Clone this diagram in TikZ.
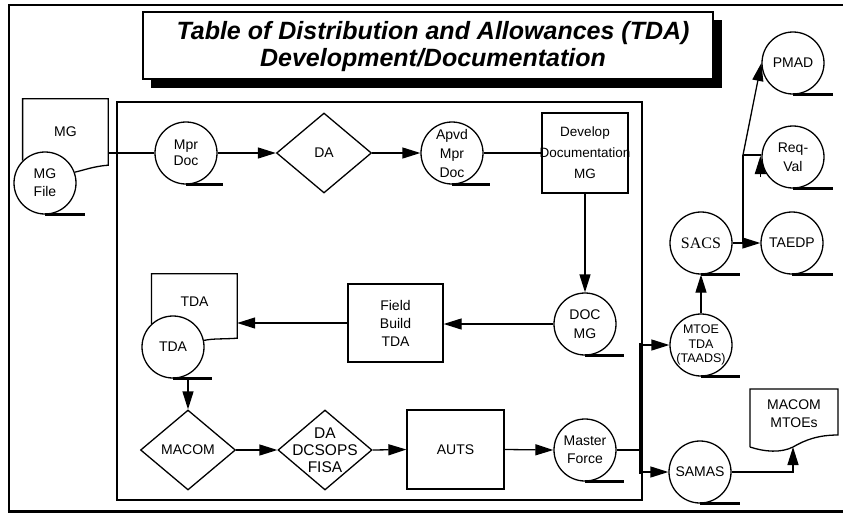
\documentclass[tikz,border=0pt]{standalone}
\usepackage{fontspec}
\setmainfont{Liberation Sans}
\newfontfamily\sacsfont{Liberation Serif}
\usetikzlibrary{arrows.meta,shapes.geometric,calc}
\begin{document}
\begin{tikzpicture}[x=1pt,y=-1pt,
  ln/.style={line width=1.3pt},
  arr/.style={line width=1.3pt,-{Triangle[length=18pt,width=11pt]}},
  under/.style={line width=2.6pt},
  txt/.style={font=\fontsize{14}{18}\selectfont,align=center,inner sep=0pt},
  tape/.style={circle,draw,line width=1.3pt,minimum size=62pt,inner sep=0pt},
  procbox/.style={rectangle,draw,line width=1.3pt,inner sep=0pt},
  decide/.style={diamond,draw,line width=1.3pt,inner sep=0pt,minimum width=95pt,minimum height=80pt},
]
\useasboundingbox (0,0) rectangle (843,517);

% outer frame
\draw[line width=1.2pt] (850,5) -- (9,5) -- (9,511);
\draw[line width=3pt] (7.5,511) -- (850,511);

% title
\fill (151,20) rectangle (722,88);
\node[procbox,fill=white,minimum width=570pt,minimum height=67pt] (title) at (428,45.5) {};
\node[font=\fontsize{25}{27}\bfseries\itshape\selectfont,align=center,inner sep=0pt] (titletext) at (433,46.5)
  {Table of Distribution and Allowances (TDA)\\Development/Documentation};

% inner frame
\draw[line width=1.4pt] (117,102) rectangle (642,500);

% MG document + file
\node[tape,label={[txt]center:MG\\File}] (mgfile) at (45,183) {};
\node[txt,minimum width=85pt,minimum height=66pt] (mgdoc) at (65.5,132) {MG};
\draw[ln] (mgfile.135) |- (mgdoc.north east) -- (mgdoc.south east) .. controls +(-14,1) and +(9,-2) .. (mgfile.20);
\draw[under] (mgfile.south) -- ++(40,0);

% top row
\node[tape,label={[txt,font=\fontsize{14}{16}\selectfont]center:Mpr\\Doc}] (mpr) at (186,153) {};
\draw[under] (mpr.south) -- ++(37,0);
\draw[ln] (mgdoc.east |- mpr.west) -- (mpr.west);
\node[decide,label={[txt]center:DA}] (da) at (324,153) {};
\draw[arr] (mpr.east) -- (da.west);
\node[tape,label={[txt,font=\fontsize{14}{19}\selectfont]center:Apvd\\Mpr\\Doc}] (apvd) at (452,153) {};
\draw[under] (apvd.south) -- ++(38,0);
\draw[arr] (da.east) -- (apvd.west);
\node[procbox,minimum width=86pt,minimum height=80pt,
      label={[txt,font=\fontsize{13.5}{21}\selectfont]center:Develop\\Documentation\\MG}] (dev) at (585,153) {};
\draw[ln] (apvd.east) -- (dev.west);

% middle row
\node[tape,label={[txt,font=\fontsize{14}{19}\selectfont]center:DOC\\MG}] (docmg) at (585,324) {};
\draw[under] (docmg.south) -- ++(39,0);
\draw[arr] (dev.south) -- (docmg.north);
\node[procbox,minimum width=95pt,minimum height=78pt,label={[txt]center:Field\\Build\\TDA}] (field) at (395.5,323) {};
\draw[arr] (docmg.west) -- (field.east |- docmg.west);
\node[tape,label={[txt]center:TDA}] (tdac) at (173,347) {};
\node[txt,minimum width=85pt,minimum height=56pt] (tdadoc) at (194.5,302) {TDA};
\draw[ln] (tdac.133) |- (tdadoc.north east) -- ($(tdadoc.south east)+(0,8)$) .. controls +(-14,1) and +(9,-2) .. (tdac.12);
\draw[under] (tdac.south) -- ++(39,0);
\draw[arr] (field.west) -- (tdadoc.east |- field.west);

% bottom row
\node[decide,label={[txt]center:MACOM}] (macom) at (188,450) {};
\draw[arr] (macom.north |- tdac.south) -- (macom.north);
\node[decide,minimum width=94pt,label={[txt,font=\fontsize{15.5}{17}\selectfont]center:DA\\DCSOPS\\FISA}] (dcsops) at (325,450) {};
\draw[arr] (macom.east) -- (dcsops.west);
\node[procbox,minimum width=97pt,minimum height=79pt,label={[txt]center:AUTS}] (auts) at (455.5,449.5) {};
\draw[arr] (dcsops.east) -- (auts.west);
\node[tape,label={[txt]center:Master\\Force}] (master) at (585,450) {};
\draw[under] (master.south) -- ++(39,0);
\draw[arr] (auts.east) -- (master.west);

% distribution bar
\coordinate (bartop) at (641,345);
\coordinate (barbot) at (641,472);
\draw[line width=4.5pt] ($(bartop)+(0,-2)$) -- ($(barbot)+(0,2)$);
\draw[ln] (master.east) -- (bartop |- master.east);
\node[tape,label={[txt,font=\fontsize{12.5}{14.5}\selectfont]center:MTOE\\TDA\\(TAADS)}] (mtoe) at (701,345) {};
\draw[under] (mtoe.south) -- ++(39,0);
\draw[arr] (bartop) -- (mtoe.west);
\node[tape,label={[txt]center:SAMAS}] (samas) at (700,472) {};
\draw[under] (samas.south) -- ++(40,0);
\draw[arr] (barbot) -- (samas.west);
\node[tape,label={[txt,font=\sacsfont\fontsize{16}{18}\selectfont]center:SACS}] (sacs) at (701,243) {};
\draw[under] (sacs.south) -- ++(39,0);
\draw[arr] (mtoe.north) -- (sacs.south);

% right column
\node[tape,label={[txt]center:PMAD}] (pmad) at (793,63) {};
\draw[under] (pmad.south) -- ++(40,0);
\node[tape,label={[txt,font=\fontsize{14}{19}\selectfont]center:Req-\\Val}] (reqval) at (793,157) {};
\draw[under] (reqval.south) -- ++(40,0);
\node[tape,label={[txt]center:TAEDP}] (taedp) at (792,243) {};
\draw[under] (taedp.south) -- ++(41,0);
\coordinate (j1) at (743,243);
\coordinate (j2) at (743,155);
\draw[ln] (sacs.east) -- (j1) -- (j2);
\draw[arr] (j1) -- (taedp.west);
\draw[arr] (j2) -- (pmad.west);
\draw[ln] (j2) -- (reqval.west |- j2);
\draw[arr] ($(reqval.west)+(-1,20)$) -- ($(reqval.west)+(-1,-1)$);

% MACOM MTOEs document
\node[txt] (mtoesdoc) at (794,414) {MACOM\\MTOEs};
\coordinate (mtoestip) at (793,447);
\draw[ln] (750,447) -- (750,389) -- (838,389) -- (838,435)
  .. controls (818,435) and (805,440) .. (mtoestip)
  .. controls (781,453) and (765,452) .. (750,447);
\draw[arr] (samas.east) -| (mtoestip);
\end{tikzpicture}
\end{document}
